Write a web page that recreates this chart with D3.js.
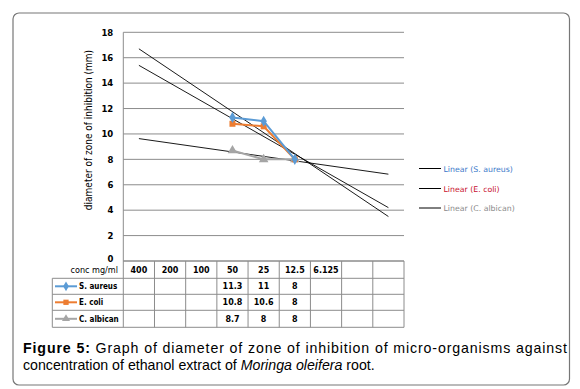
<!DOCTYPE html>
<html><head><meta charset="utf-8">
<script src="https://cdn.jsdelivr.net/npm/d3@7"></script>
<style>body{margin:0;background:#fff}svg{display:block}</style>
</head><body>
<svg id="c" width="580" height="389"></svg>
<script>
const categories = ["400","200","100","50","25","12.5","6.125","",""];
const seriesNames = ["S. aureus","E. coli","C. albican"];
const sAureus = [null,null,null,11.3,11,8,null,null,null];
const eColi   = [null,null,null,10.8,10.6,8,null,null,null];
const cAlbican= [null,null,null,8.7,8,8,null,null,null];
const yTicks = [0,2,4,6,8,10,12,14,16,18];
const seriesColors = ["#5b9bd5","#ed7d31","#a5a5a5"];
const legendTextColors = ["#3a78c9","#c8102e","#8a8a8a"];
const markers = [d3.symbolDiamond, d3.symbolSquare, d3.symbolTriangle];

const series = [sAureus, eColi, cAlbican];
const svg = d3.select("#c");
const L = 123.3, R = 404, T = 32.3, B = 261;
const x = d3.scaleBand().domain(d3.range(categories.length)).range([L,R]).padding(0);
const xc = i => x(i) + x.bandwidth()/2;
const xl = d3.scaleLinear().domain([0,8]).range([xc(0), xc(8)]);
const y = d3.scaleLinear().domain([0,18]).range([B,T]);

// outer frame
svg.append("rect").attr("x",13).attr("y",13).attr("width",556.5).attr("height",372)
  .attr("rx",6).attr("fill","#fff").attr("stroke","#777").attr("stroke-width",1.2);

// gridlines
svg.append("g").selectAll("line").data(yTicks).join("line")
  .attr("x1",L).attr("x2",R).attr("y1",d=>y(d)).attr("y2",d=>y(d))
  .attr("stroke","#8c8c8c").attr("stroke-width",1);
svg.append("line").attr("x1",L).attr("x2",L).attr("y1",T).attr("y2",B).attr("stroke","#8c8c8c");

// y tick labels
const yAxis = d3.axisLeft(y).tickValues(yTicks).tickSize(0).tickPadding(0);
const ga = svg.append("g").attr("transform",`translate(${L-10},0)`).call(yAxis);
ga.select(".domain").remove();
ga.selectAll("text").attr("font-family","DejaVu Sans").attr("font-weight","bold")
  .attr("font-size",8.5).attr("fill","#000");
ga.selectAll(".tick").filter(d=>d===0).select("text").attr("dy","0.1em");

// y title
svg.append("text").attr("transform",`translate(92,130) rotate(-90)`)
  .attr("text-anchor","middle").attr("font-family","DejaVu Sans Condensed, DejaVu Sans")
  .attr("font-size",10).attr("fill","#000").text("diameter of zone of inhibition (mm)");

// trendlines
function fit(vals){
  const pts = vals.map((v,i)=>[i,v]).filter(p=>p[1]!=null);
  const mx = d3.mean(pts,p=>p[0]), my = d3.mean(pts,p=>p[1]);
  const s = d3.sum(pts,p=>(p[0]-mx)*(p[1]-my))/d3.sum(pts,p=>(p[0]-mx)**2);
  return i => my + s*(i-mx);
}
series.forEach(vals=>{
  const f = fit(vals);
  svg.append("line").attr("x1",xl(0)).attr("y1",y(f(0))).attr("x2",xl(8)).attr("y2",y(f(8)))
    .attr("stroke","#000").attr("stroke-width",0.9);
});

// series lines + markers
const line = d3.line().defined(d=>d[1]!=null).x(d=>xc(d[0])).y(d=>y(d[1]));
[2,1,0].forEach(k=>{
  const pts = series[k].map((v,i)=>[i,v]);
  svg.append("path").attr("d",line(pts)).attr("fill","none")
    .attr("stroke",seriesColors[k]).attr("stroke-width",2);
  svg.append("g").selectAll("path").data(pts.filter(p=>p[1]!=null)).join("path")
    .attr("transform",p=>`translate(${xc(p[0])},${y(p[1])})`)
    .attr("d",d3.symbol().type(markers[k]).size(k===2?40:36)).attr("fill",seriesColors[k]);
});

// legend for trendlines
const lgY = [168.5,188.5,208];
seriesNames.forEach((n,k)=>{
  svg.append("line").attr("x1",419).attr("x2",441).attr("y1",lgY[k]).attr("y2",lgY[k]).attr("stroke","#000");
  svg.append("text").attr("x",443.5).attr("y",lgY[k]+3).attr("font-family","DejaVu Sans")
    .attr("font-size",7.8).attr("fill",legendTextColors[k]).text(`Linear (${n})`);
});

// data table
const rowY = [261,278.3,294.3,310.3,327.3];
const TL = 52.3;
const tg = svg.append("g").attr("stroke","#8c8c8c").attr("stroke-width",1);
rowY.forEach((ry,i)=>{
  tg.append("line").attr("x1",i===0?L:TL).attr("x2",R).attr("y1",ry).attr("y2",ry);
});
d3.range(categories.length+1).forEach(i=>{
  const xx = i<categories.length? x(i) : R;
  tg.append("line").attr("x1",xx).attr("x2",xx).attr("y1",B).attr("y2",rowY[4]);
});
tg.append("line").attr("x1",TL).attr("x2",TL).attr("y1",rowY[1]).attr("y2",rowY[4]);

svg.append("text").attr("x",118).attr("y",272.5).attr("text-anchor","end")
  .attr("font-family","DejaVu Sans Condensed, DejaVu Sans").attr("font-size",9).attr("fill","#000").text("conc mg/ml");

svg.append("g").selectAll("text").data(categories).join("text")
  .attr("x",(d,i)=>xc(i)).attr("y",(rowY[0]+rowY[1])/2+3).attr("text-anchor","middle")
  .attr("font-family","DejaVu Sans").attr("font-weight","bold").attr("font-size",8).text(d=>d);

series.forEach((vals,k)=>{
  const cy = (rowY[k+1]+rowY[k+2])/2;
  svg.append("line").attr("x1",55).attr("x2",77).attr("y1",cy).attr("y2",cy)
    .attr("stroke",seriesColors[k]).attr("stroke-width",2);
  svg.append("path").attr("transform",`translate(66,${cy})`)
    .attr("d",d3.symbol().type(markers[k]).size(28)).attr("fill",seriesColors[k]);
  svg.append("text").attr("x",79).attr("y",cy+3).attr("font-family","DejaVu Sans Condensed, DejaVu Sans")
    .attr("font-weight","bold").attr("font-size",8).text(seriesNames[k]);
  svg.append("g").selectAll("text").data(vals.map((v,i)=>[i,v]).filter(p=>p[1]!=null)).join("text")
    .attr("x",p=>xc(p[0])).attr("y",cy+3).attr("text-anchor","middle")
    .attr("font-family","DejaVu Sans").attr("font-weight","bold").attr("font-size",8).text(p=>p[1]);
});

// caption
const cap = svg.append("text").attr("font-family","Liberation Sans, Arial").attr("font-size",14.2).attr("fill","#000");
const l1 = cap.append("tspan").attr("x",23).attr("y",353).attr("textLength",544).attr("lengthAdjust","spacing");
l1.append("tspan").attr("font-weight","bold").text("Figure 5:");
l1.append("tspan").text(" Graph of diameter of zone of inhibition of micro-organisms against");
const l2 = cap.append("tspan").attr("x",23).attr("y",370);
l2.append("tspan").text("concentration of ethanol extract of ");
l2.append("tspan").attr("font-style","italic").text("Moringa oleifera");
l2.append("tspan").text(" root.");
</script>
</body></html>
